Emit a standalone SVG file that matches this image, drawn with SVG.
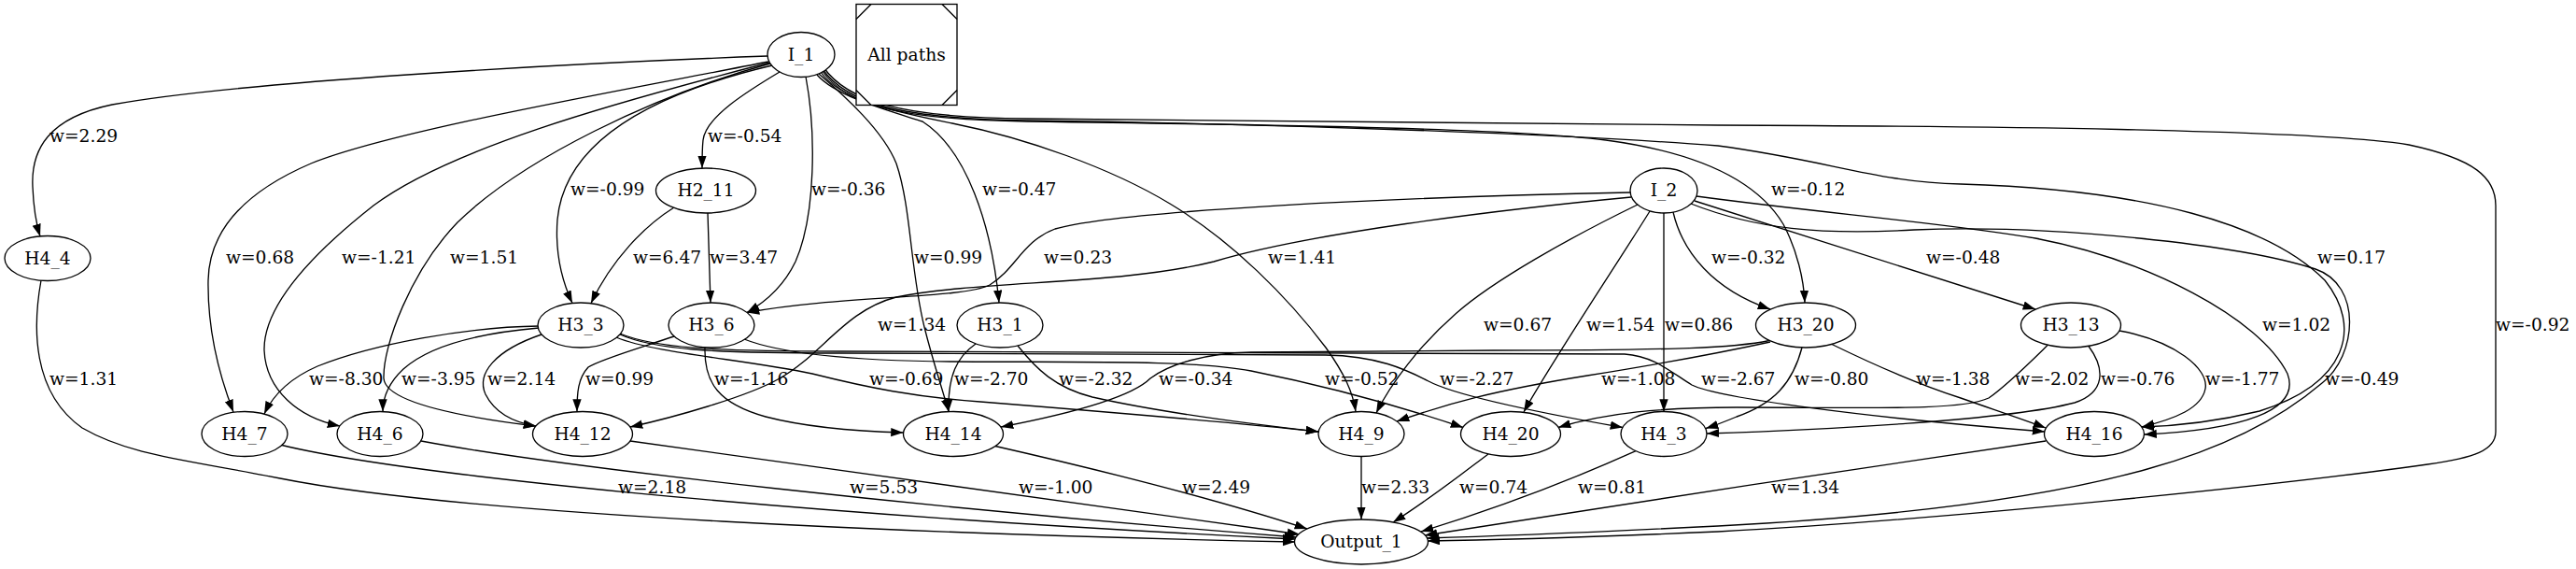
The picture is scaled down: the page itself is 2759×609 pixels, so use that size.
<svg xmlns="http://www.w3.org/2000/svg" width="2759" height="609" viewBox="0 0 2759 609">
<style>
.n ellipse{fill:#fff;stroke:#000;stroke-width:1.33}
.n text,.e text{font-family:"DejaVu Serif","Liberation Serif",serif;font-size:18.67px;fill:#000}
.n text{text-anchor:middle}
.e path{fill:none;stroke:#000;stroke-width:1.33;marker-end:url(#ah)}
</style>
<defs>
<marker id="ah" viewBox="0 0 14 10" markerWidth="14" markerHeight="10" refX="13.3" refY="4.67" orient="auto" markerUnits="userSpaceOnUse"><path d="M0,0 L13.3,4.67 L0,9.33 z" fill="#000"/></marker>
</defs>
<rect width="2759" height="609" fill="#fff"/>
<g id="connectors">
<g class="e"><path d="M822,60 C600,68 250,88 120,112 C52,126 33,160 35,200 C36,225 39,240 43,253"/><text x="53" y="151.5">w=2.29</text></g>
<g class="e"><path d="M835,77 C800,98 756,125 753,150 C752,160 752,170 752,180"/><text x="758" y="151.5">w=-0.54</text></g>
<g class="e"><path d="M827,70 C700,100 605,150 597,235 C594,275 603,303 613,324.5"/><text x="611" y="209">w=-0.99</text></g>
<g class="e"><path d="M863,82 C874,140 874,230 852,280 C840,305 822,322 800,334.5"/><text x="869" y="209">w=-0.36</text></g>
<g class="e"><path d="M875,80 C895,103 950,118 988,130 C1035,160 1062,240 1070,324"/><text x="1052" y="209">w=-0.47</text></g>
<g class="e"><path d="M823,66 C650,100 420,140 333,175 C270,202 224,242 223,300 C222,360 238,410 250,441"/><text x="242" y="281.7">w=0.68</text></g>
<g class="e"><path d="M824,67 C650,112 480,160 400,220 C330,275 282,330 283,375 C285,418 320,447 364,456"/><text x="366" y="281.7">w=-1.21</text></g>
<g class="e"><path d="M825,68 C700,102 560,170 490,238 C440,290 410,370 411,405 C413,432 500,447 574,456"/><text x="482" y="281.7">w=1.51</text></g>
<g class="e"><path d="M877,79 C905,103 946,140 960,175 C976,222 975,290 990,350 C1000,390 1009,415 1016,440.6"/><text x="979" y="281.7">w=0.99</text></g>
<g class="e"><path d="M879,77 C900,108 960,120 1020,132 C1100,148 1190,180 1253,218 C1320,258 1380,319 1420,372 C1440,400 1449,420 1452,440.6"/><text x="1358" y="281.7">w=1.41</text></g>
<g class="e"><path d="M880,75 C905,112 960,128 1100,130 C1400,134 1620,138 1720,150 C1810,162 1880,190 1910,240 C1925,268 1932,300 1933,324"/><text x="1897" y="209">w=-0.12</text></g>
<g class="e"><path d="M881,74 C906,110 962,127 1100,129 C1400,133 1700,145 1840,156 C1960,172 2010,195 2100,197 C2300,203 2430,240 2490,300 C2530,350 2515,410 2420,440 C2370,452 2330,456 2294,457"/><text x="2482" y="281.7">w=0.17</text></g>
<g class="e"><path d="M882,72 C907,108 964,126 1100,127 L1840,134 C2100,135 2480,138 2580,155 C2650,170 2673,190 2673,220 L2673,462 C2673,482 2650,490 2600,497 C2450,518 2100,555 1840,569 C1700,575 1600,578 1529,579"/><text x="2673" y="354">w=-0.92</text></g>
<g class="e"><path d="M1746,206 C1500,211 1200,225 1130,245 C1095,258 1088,288 1060,305 C1030,320 900,316 800,334.5"/><text x="1118" y="281.7">w=0.23</text></g>
<g class="e"><path d="M1747,211 C1600,225 1400,250 1300,280 C1200,305 1050,300 960,318 C905,332 880,380 835,405 C800,425 720,447 675,457"/><text x="940" y="354">w=1.34</text></g>
<g class="e"><path d="M1754,219 C1680,255 1600,300 1560,335 C1520,370 1490,410 1474,442"/><text x="1589" y="354">w=0.67</text></g>
<g class="e"><path d="M1767,226 C1740,270 1660,390 1632,441"/><text x="1699" y="354">w=1.54</text></g>
<g class="e"><path d="M1782,228 L1782,440.5"/><text x="1783" y="354">w=0.86</text></g>
<g class="e"><path d="M1792,227 C1802,270 1835,310 1896,331"/><text x="1833" y="281.7">w=-0.32</text></g>
<g class="e"><path d="M1815,215 L2180,331"/><text x="2063" y="281.7">w=-0.48</text></g>
<g class="e"><path d="M1817,210 C1950,228 2080,238 2180,255 C2300,278 2420,340 2450,400 C2465,440 2400,460 2296.5,465"/><text x="2423" y="354">w=1.02</text></g>
<g class="e"><path d="M1811,218 C1880,245 1950,252 2050,246 C2200,240 2400,262 2480,288 C2530,305 2525,380 2487,410 C2440,450 2380,480 2300,502 C2200,530 2050,552 1840,563 C1700,570 1600,574 1528,576"/><text x="2490" y="411.7">w=-0.49</text></g>
<g class="e"><path d="M722,222 C690,242 655,278 633,324.6"/><text x="678" y="281.7">w=6.47</text></g>
<g class="e"><path d="M758,228 L761,324"/><text x="760" y="281.7">w=3.47</text></g>
<g class="e"><path d="M577,349 C500,350 400,368 340,392 C310,405 293,422 283,443"/><text x="331" y="411.7">w=-8.30</text></g>
<g class="e"><path d="M577,351 C520,356 462,368 432,395 C416,410 410,425 410,440.5"/><text x="430" y="411.7">w=-3.95</text></g>
<g class="e"><path d="M580,358 C530,375 510,400 520,422 C530,442 550,452 574,456"/><text x="522" y="411.7">w=2.14</text></g>
<g class="e"><path d="M722,360 C680,374 642,385 630,393 C619,405 618,420 618,440.6"/><text x="627" y="411.7">w=0.99</text></g>
<g class="e"><path d="M755,372 C754,410 770,432 820,446 C870,459 930,462 967.5,463"/><text x="765" y="411.7">w=-1.16</text></g>
<g class="e"><path d="M797,363 C830,376 900,386 1020,387 C1150,388 1280,385 1340,397 C1430,415 1500,435 1567,457.5"/><text x="1419" y="411.7">w=-0.52</text></g>
<g class="e"><path d="M660,361 C700,378 800,385 870,400 C930,415 980,425 1050,430 C1200,442 1330,453 1412,462"/><text x="931" y="411.7">w=-0.69</text></g>
<g class="e"><path d="M664,358 C700,374 760,378 900,378 L1420,380 C1475,381 1505,395 1530,408 C1560,424 1650,442 1738,457.5"/><text x="1542" y="411.7">w=-2.27</text></g>
<g class="e"><path d="M664,357 C700,372 760,376 900,376 L1740,379 C1772,381 1792,400 1812,412 C1840,426 2000,447 2190,462"/><text x="1822" y="411.7">w=-2.67</text></g>
<g class="e"><path d="M1045,368 C1025,382 1015,402 1016,440.6"/><text x="1022" y="411.7">w=-2.70</text></g>
<g class="e"><path d="M1090,370 C1110,395 1130,415 1170,425 C1250,443 1350,455 1412,462"/><text x="1134" y="411.7">w=-2.32</text></g>
<g class="e"><path d="M1895,364.5 C1860,372 1800,375 1600,375 L1340,377 C1290,378 1252,390 1232,405 C1212,425 1150,442 1072,457"/><text x="1241" y="411.7">w=-0.34</text></g>
<g class="e"><path d="M1896,366 C1850,376 1800,386 1700,402 C1600,418 1550,432 1496,451"/><text x="1715" y="411.7">w=-1.08</text></g>
<g class="e"><path d="M1930,372 C1920,410 1900,432 1860,446 C1848,451 1838,455 1827,458.5"/><text x="1922" y="411.7">w=-0.80</text></g>
<g class="e"><path d="M1962,368.5 C2000,387 2050,410 2100,426 C2140,440 2170,450 2191,458"/><text x="2052" y="411.7">w=-1.38</text></g>
<g class="e"><path d="M2193,369.5 C2172,390 2150,412 2130,426 C2100,440 2000,436 1860,436 C1780,436 1720,442 1669,457.5"/><text x="2158" y="411.7">w=-2.02</text></g>
<g class="e"><path d="M2237,370.5 C2255,395 2255,420 2222,431 C2150,450 1950,460 1828,464"/><text x="2250" y="411.7">w=-0.76</text></g>
<g class="e"><path d="M2270,354 C2330,365 2366,395 2362,416 C2358,437 2330,448 2294,457"/><text x="2362" y="411.7">w=-1.77</text></g>
<g class="e"><path d="M44,300 C35,350 34,420 88,458 C140,488 200,492 300,512 C500,552 1000,572 1387,580"/><text x="53" y="411.7">w=1.31</text></g>
<g class="e"><path d="M302,476.5 C420,505 800,548 1387,577"/><text x="662" y="528">w=2.18</text></g>
<g class="e"><path d="M451,472 C600,500 1000,545 1389,575"/><text x="910" y="528">w=5.53</text></g>
<g class="e"><path d="M675,472 C800,490 1100,530 1392,572"/><text x="1091" y="528">w=-1.00</text></g>
<g class="e"><path d="M1066,477.5 C1200,508 1320,540 1400,566"/><text x="1266" y="528">w=2.49</text></g>
<g class="e"><path d="M1458,488.5 L1458,556"/><text x="1458" y="528">w=2.33</text></g>
<g class="e"><path d="M1594,486 C1562,510 1530,535 1492,559"/><text x="1563" y="528">w=0.74</text></g>
<g class="e"><path d="M1752,482.7 C1680,515 1600,545 1522,569"/><text x="1690" y="528">w=0.81</text></g>
<g class="e"><path d="M2191,472 C2000,500 1700,545 1526,573"/><text x="1897" y="528">w=1.34</text></g>
</g>
<g id="node-I_1" class="n"><ellipse cx="858" cy="58.5" rx="36" ry="24"/><text x="858" y="64.5">I_1</text></g>
<g id="node-legend"><rect x="917" y="4.5" width="108" height="108" fill="#fff" stroke="#000" stroke-width="1.33"/><path d="M933,4.5 L917,20.5 M1009,4.5 L1025,20.5 M1025,96.5 L1009,112.5 M933,112.5 L917,96.5" fill="none" stroke="#000" stroke-width="1.33"/><text x="971" y="64.5" style="font-family:'DejaVu Serif','Liberation Serif',serif;font-size:18.67px;text-anchor:middle">All paths</text></g>
<g id="node-H2_11" class="n"><ellipse cx="756" cy="204" rx="53.5" ry="24"/><text x="756" y="210">H2_11</text></g>
<g id="node-I_2" class="n"><ellipse cx="1782" cy="204" rx="36" ry="24"/><text x="1782" y="210">I_2</text></g>
<g id="node-H4_4" class="n"><ellipse cx="51" cy="276.5" rx="46" ry="24"/><text x="51" y="282.5">H4_4</text></g>
<g id="node-H3_3" class="n"><ellipse cx="622" cy="348" rx="46" ry="24"/><text x="622" y="354">H3_3</text></g>
<g id="node-H3_6" class="n"><ellipse cx="762" cy="348" rx="46" ry="24"/><text x="762" y="354">H3_6</text></g>
<g id="node-H3_1" class="n"><ellipse cx="1071" cy="348" rx="46" ry="24"/><text x="1071" y="354">H3_1</text></g>
<g id="node-H3_20" class="n"><ellipse cx="1934" cy="348" rx="53.5" ry="24"/><text x="1934" y="354">H3_20</text></g>
<g id="node-H3_13" class="n"><ellipse cx="2218" cy="348" rx="53.5" ry="24"/><text x="2218" y="354">H3_13</text></g>
<g id="node-H4_7" class="n"><ellipse cx="262" cy="464.5" rx="46" ry="24"/><text x="262" y="470.5">H4_7</text></g>
<g id="node-H4_6" class="n"><ellipse cx="407" cy="464.5" rx="46" ry="24"/><text x="407" y="470.5">H4_6</text></g>
<g id="node-H4_12" class="n"><ellipse cx="624" cy="464.5" rx="53.5" ry="24"/><text x="624" y="470.5">H4_12</text></g>
<g id="node-H4_14" class="n"><ellipse cx="1021" cy="464.5" rx="53.5" ry="24"/><text x="1021" y="470.5">H4_14</text></g>
<g id="node-H4_9" class="n"><ellipse cx="1458" cy="464.5" rx="46" ry="24"/><text x="1458" y="470.5">H4_9</text></g>
<g id="node-H4_20" class="n"><ellipse cx="1618" cy="464.5" rx="53.5" ry="24"/><text x="1618" y="470.5">H4_20</text></g>
<g id="node-H4_3" class="n"><ellipse cx="1782" cy="464.5" rx="46" ry="24"/><text x="1782" y="470.5">H4_3</text></g>
<g id="node-H4_16" class="n"><ellipse cx="2243" cy="464.5" rx="53.5" ry="24"/><text x="2243" y="470.5">H4_16</text></g>
<g id="node-Output_1" class="n"><ellipse cx="1458" cy="580" rx="71.5" ry="24"/><text x="1458" y="586">Output_1</text></g>
</svg>
